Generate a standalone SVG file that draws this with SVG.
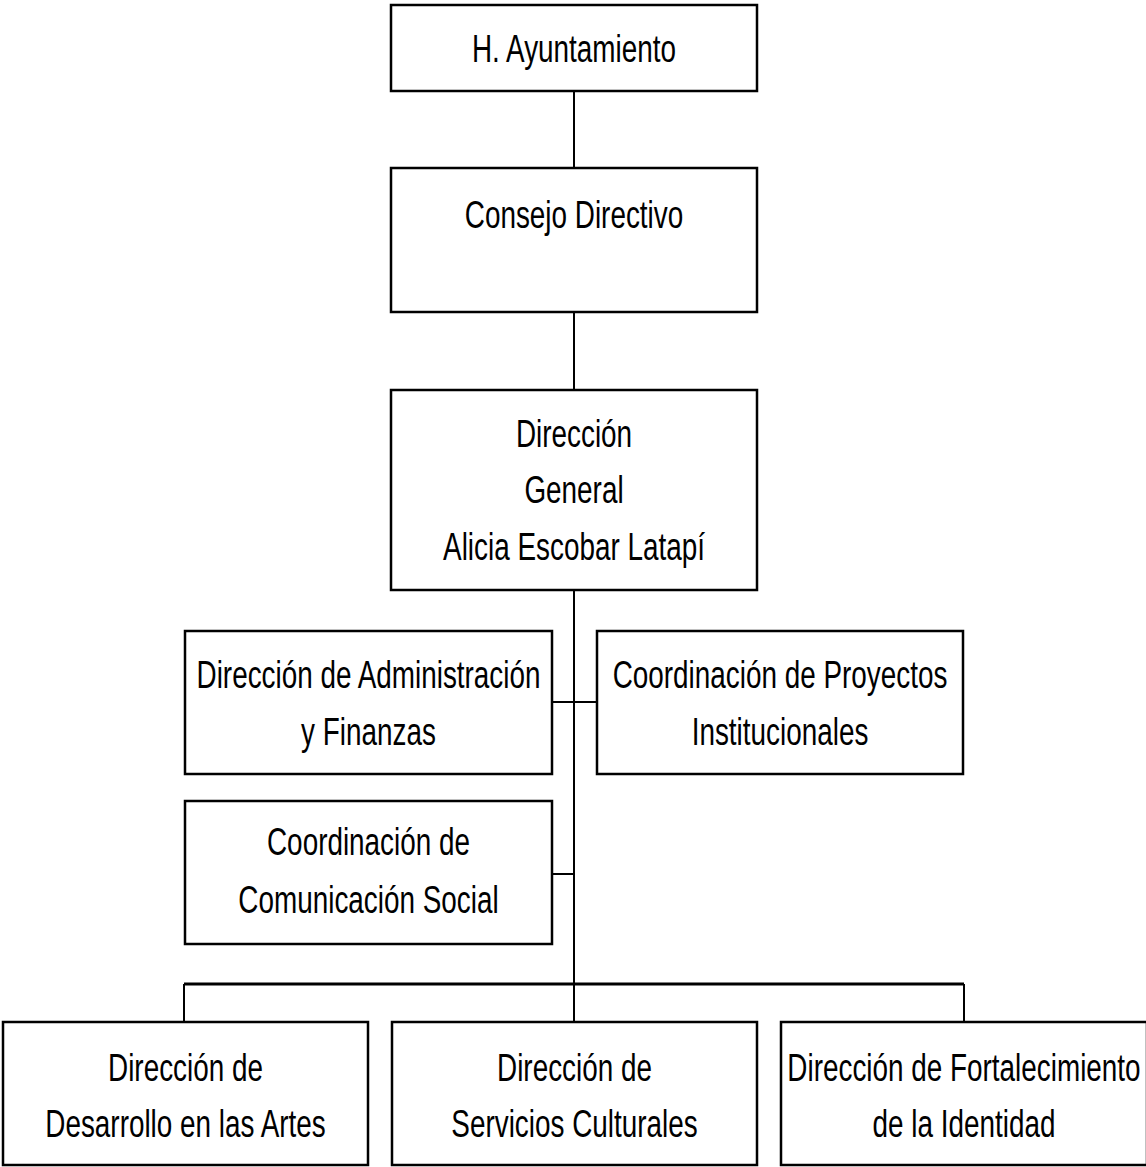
<svg xmlns="http://www.w3.org/2000/svg" width="1146" height="1167" viewBox="0 0 1146 1167">
<style>
.box{fill:#fff;stroke:#000;stroke-width:2.5}
.ln{fill:none;stroke:#000;stroke-width:2}
.bus{fill:none;stroke:#000;stroke-width:3}
text{font-family:"Liberation Sans",Arial,sans-serif;font-size:39px;fill:#000;text-anchor:middle}
</style>
<rect width="1146" height="1167" fill="#fff"/>
<g id="connectors">
<line class="ln" x1="574" y1="91" x2="574" y2="168"/>
<line class="ln" x1="574" y1="312" x2="574" y2="390"/>
<line class="ln" x1="574" y1="590" x2="574" y2="984"/>
<line class="ln" x1="552" y1="702" x2="597" y2="702"/>
<line class="ln" x1="552" y1="874" x2="574" y2="874"/>
<line class="bus" x1="184" y1="984" x2="964" y2="984"/>
<line class="ln" x1="184" y1="984" x2="184" y2="1022"/>
<line class="ln" x1="574" y1="984" x2="574" y2="1022"/>
<line class="ln" x1="964" y1="984" x2="964" y2="1022"/>
</g>
<g id="ayuntamiento">
<rect class="box" x="391" y="5" width="366" height="86"/>
<text transform="translate(574,62) scale(0.715,1)">H. Ayuntamiento</text>
</g>
<g id="consejo">
<rect class="box" x="391" y="168" width="366" height="144"/>
<text transform="translate(574,228) scale(0.715,1)">Consejo Directivo</text>
</g>
<g id="direccion-general">
<rect class="box" x="391" y="390" width="366" height="200"/>
<text transform="translate(574,447) scale(0.715,1)">Dirección</text>
<text transform="translate(574,503) scale(0.715,1)">General</text>
<text transform="translate(574,560) scale(0.715,1)">Alicia Escobar Latapí</text>
</g>
<g id="administracion">
<rect class="box" x="185" y="631" width="367" height="143"/>
<text transform="translate(368.5,688) scale(0.715,1)">Dirección de Administración</text>
<text transform="translate(368.5,745) scale(0.715,1)">y Finanzas</text>
</g>
<g id="proyectos">
<rect class="box" x="597" y="631" width="366" height="143"/>
<text transform="translate(780,688) scale(0.715,1)">Coordinación de Proyectos</text>
<text transform="translate(780,745) scale(0.715,1)">Institucionales</text>
</g>
<g id="comunicacion">
<rect class="box" x="185" y="801" width="367" height="143"/>
<text transform="translate(368.5,855) scale(0.715,1)">Coordinación de</text>
<text transform="translate(368.5,913) scale(0.715,1)">Comunicación Social</text>
</g>
<g id="artes">
<rect class="box" x="3" y="1022" width="365" height="143"/>
<text transform="translate(185.5,1081) scale(0.715,1)">Dirección de</text>
<text transform="translate(185.5,1137) scale(0.715,1)">Desarrollo en las Artes</text>
</g>
<g id="servicios">
<rect class="box" x="392" y="1022" width="365" height="143"/>
<text transform="translate(574.5,1081) scale(0.715,1)">Dirección de</text>
<text transform="translate(574.5,1137) scale(0.715,1)">Servicios Culturales</text>
</g>
<g id="identidad">
<rect class="box" x="781" y="1022" width="366" height="143"/>
<text transform="translate(964,1081) scale(0.715,1)">Dirección de Fortalecimiento</text>
<text transform="translate(964,1137) scale(0.715,1)">de la Identidad</text>
</g>
</svg>
